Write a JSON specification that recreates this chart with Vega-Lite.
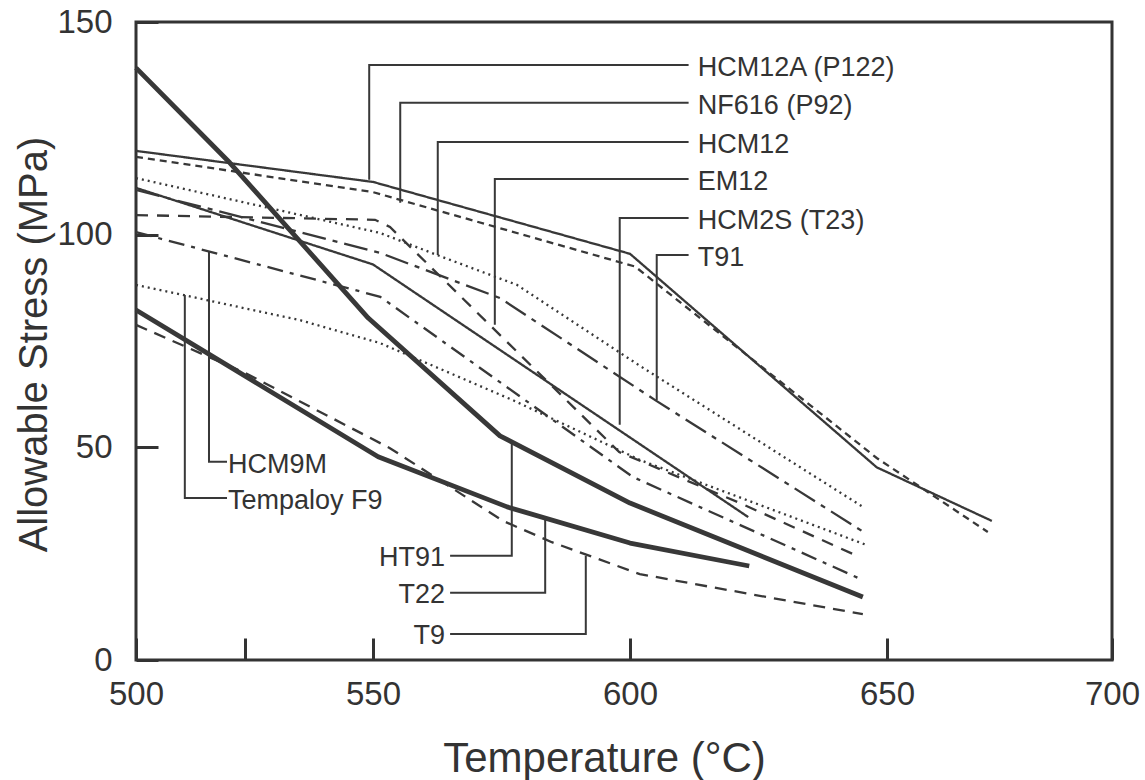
{
  "$schema": "https://vega.github.io/schema/vega-lite/v6.json",
  "width": 976,
  "height": 638,
  "autosize": "none",
  "padding": {"left": 136, "top": 22, "right": 33, "bottom": 120},
  "background": "white",
  "config": {
    "view": {"stroke": "#333333", "strokeWidth": 3},
    "font": "Liberation Sans",
    "axis": {"grid": false, "domain": false, "labelColor": "#333333", "titleColor": "#333333", "titleFontWeight": "normal", "tickColor": "#333333", "tickWidth": 3, "labelFlush": false, "labelOverlap": false}
  },
  "datasets": {
    "curves": [
      {"material": "HCM12A (P122)", "T": 500, "S": 119.7},
      {"material": "HCM12A (P122)", "T": 550, "S": 112.4},
      {"material": "HCM12A (P122)", "T": 600, "S": 95.5},
      {"material": "HCM12A (P122)", "T": 648, "S": 45.3},
      {"material": "HCM12A (P122)", "T": 673.3, "S": 32.7},
      {"material": "NF616 (P92)", "T": 500, "S": 118.3},
      {"material": "NF616 (P92)", "T": 550, "S": 110},
      {"material": "NF616 (P92)", "T": 601, "S": 92.5},
      {"material": "NF616 (P92)", "T": 648, "S": 47.5},
      {"material": "NF616 (P92)", "T": 672.4, "S": 30.1},
      {"material": "HCM12", "T": 500, "S": 113.3},
      {"material": "HCM12", "T": 551.4, "S": 100.4},
      {"material": "HCM12", "T": 562.5, "S": 95.2},
      {"material": "HCM12", "T": 578, "S": 88.2},
      {"material": "HCM12", "T": 602, "S": 69.1},
      {"material": "HCM12", "T": 645.3, "S": 36.0},
      {"material": "EM12", "T": 500, "S": 104.6},
      {"material": "EM12", "T": 550.4, "S": 103.5},
      {"material": "EM12", "T": 553.3, "S": 101.8},
      {"material": "EM12", "T": 597.9, "S": 48.9},
      {"material": "EM12", "T": 621.4, "S": 36.9},
      {"material": "EM12", "T": 644.7, "S": 24.2},
      {"material": "HCM2S (T23)", "T": 500, "S": 111.0},
      {"material": "HCM2S (T23)", "T": 550, "S": 93.0},
      {"material": "HCM2S (T23)", "T": 623, "S": 33.6},
      {"material": "T91", "T": 500, "S": 110.5},
      {"material": "T91", "T": 551.4, "S": 95.7},
      {"material": "T91", "T": 574.7, "S": 85.1},
      {"material": "T91", "T": 604.9, "S": 61.1},
      {"material": "T91", "T": 645.7, "S": 29.9},
      {"material": "HCM9M", "T": 500, "S": 100.6},
      {"material": "HCM9M", "T": 551.4, "S": 85.4},
      {"material": "HCM9M", "T": 600.6, "S": 43.0},
      {"material": "HCM9M", "T": 645.3, "S": 18.8},
      {"material": "Tempaloy F9", "T": 500, "S": 88.2},
      {"material": "Tempaloy F9", "T": 534.6, "S": 79.9},
      {"material": "Tempaloy F9", "T": 551.4, "S": 74.5},
      {"material": "Tempaloy F9", "T": 577.2, "S": 61.1},
      {"material": "Tempaloy F9", "T": 602, "S": 47.0},
      {"material": "Tempaloy F9", "T": 646.1, "S": 27.0},
      {"material": "HT91", "T": 500, "S": 139.2},
      {"material": "HT91", "T": 519.8, "S": 116.9},
      {"material": "HT91", "T": 549, "S": 80.4},
      {"material": "HT91", "T": 574.7, "S": 52.7},
      {"material": "HT91", "T": 600, "S": 36.9},
      {"material": "HT91", "T": 645.3, "S": 14.8},
      {"material": "T22", "T": 500, "S": 82.3},
      {"material": "T22", "T": 551, "S": 47.8},
      {"material": "T22", "T": 576.1, "S": 36.0},
      {"material": "T22", "T": 600, "S": 27.5},
      {"material": "T22", "T": 623.2, "S": 22.1},
      {"material": "T9", "T": 500, "S": 78.8},
      {"material": "T9", "T": 523, "S": 67.5},
      {"material": "T9", "T": 553.3, "S": 49.8},
      {"material": "T9", "T": 575.3, "S": 32.7},
      {"material": "T9", "T": 584.8, "S": 27.7},
      {"material": "T9", "T": 601.9, "S": 20.2},
      {"material": "T9", "T": 626.6, "S": 14.8},
      {"material": "T9", "T": 645.3, "S": 10.8}
    ],
    "leaders": [
      {"id": "HCM12A (P122)", "i": 1, "T": 611.4, "S": 139.9},
      {"id": "HCM12A (P122)", "i": 2, "T": 549.2, "S": 139.9},
      {"id": "HCM12A (P122)", "i": 3, "T": 549.2, "S": 112.9},
      {"id": "NF616 (P92)", "i": 1, "T": 611.4, "S": 131.0},
      {"id": "NF616 (P92)", "i": 2, "T": 555.3, "S": 131.0},
      {"id": "NF616 (P92)", "i": 3, "T": 555.3, "S": 107.5},
      {"id": "HCM12", "i": 1, "T": 611.4, "S": 121.8},
      {"id": "HCM12", "i": 2, "T": 562.6, "S": 121.8},
      {"id": "HCM12", "i": 3, "T": 562.6, "S": 95.2},
      {"id": "EM12", "i": 1, "T": 611.4, "S": 113.1},
      {"id": "EM12", "i": 2, "T": 573.7, "S": 113.1},
      {"id": "EM12", "i": 3, "T": 573.7, "S": 78.8},
      {"id": "HCM2S (T23)", "i": 1, "T": 611.4, "S": 103.9},
      {"id": "HCM2S (T23)", "i": 2, "T": 598, "S": 103.9},
      {"id": "HCM2S (T23)", "i": 3, "T": 598, "S": 55.3},
      {"id": "T91", "i": 1, "T": 611.4, "S": 95.2},
      {"id": "T91", "i": 2, "T": 605.2, "S": 95.2},
      {"id": "T91", "i": 3, "T": 605.2, "S": 61.1},
      {"id": "HCM9M", "i": 1, "T": 515.4, "S": 95.9},
      {"id": "HCM9M", "i": 2, "T": 515.4, "S": 46.6},
      {"id": "HCM9M", "i": 3, "T": 519.2, "S": 46.6},
      {"id": "Tempaloy F9", "i": 1, "T": 510.3, "S": 85.8},
      {"id": "Tempaloy F9", "i": 2, "T": 510.3, "S": 38.1},
      {"id": "Tempaloy F9", "i": 3, "T": 519.2, "S": 38.1},
      {"id": "HT91", "i": 1, "T": 565.0, "S": 24.5},
      {"id": "HT91", "i": 2, "T": 577.0, "S": 24.5},
      {"id": "HT91", "i": 3, "T": 577.0, "S": 51.7},
      {"id": "T22", "i": 1, "T": 565.0, "S": 15.8},
      {"id": "T22", "i": 2, "T": 583.5, "S": 15.8},
      {"id": "T22", "i": 3, "T": 583.5, "S": 32.9},
      {"id": "T9", "i": 1, "T": 565.0, "S": 6.1},
      {"id": "T9", "i": 2, "T": 591.4, "S": 6.1},
      {"id": "T9", "i": 3, "T": 591.4, "S": 24.5}
    ],
    "labels": [
      {"text": "HCM12A (P122)", "side": "left", "T": 613.2, "S": 139.9},
      {"text": "NF616 (P92)", "side": "left", "T": 613.2, "S": 131.0},
      {"text": "HCM12", "side": "left", "T": 613.2, "S": 121.8},
      {"text": "EM12", "side": "left", "T": 613.2, "S": 113.1},
      {"text": "HCM2S (T23)", "side": "left", "T": 613.2, "S": 103.9},
      {"text": "T91", "side": "left", "T": 613.2, "S": 95.2},
      {"text": "HCM9M", "side": "left", "T": 519.4, "S": 46.6},
      {"text": "Tempaloy F9", "side": "left", "T": 519.4, "S": 38.1},
      {"text": "HT91", "side": "right", "T": 564.0, "S": 24.5},
      {"text": "T22", "side": "right", "T": 564.0, "S": 15.8},
      {"text": "T9", "side": "right", "T": 564.0, "S": 6.1}
    ]
  },
  "encoding": {
    "x": {
      "field": "T", "type": "quantitative",
      "scale": {"domain": [500, 550, 600, 650, 700], "range": [0, 237, 494, 751, 976], "nice": false, "zero": false},
      "axis": {"title": "Temperature (°C)", "values": [500, 523, 550, 600, 650, 700], "labelExpr": "datum.value == 523 ? '' : datum.label", "tickSize": -22, "labelFontSize": 33, "labelBaseline": "alphabetic", "labelPadding": 66, "titleFontSize": 42, "titleBaseline": "alphabetic", "titleX": 468, "titleY": 111}
    },
    "y": {
      "field": "S", "type": "quantitative",
      "scale": {"domain": [0, 150], "nice": false},
      "axis": {"title": "Allowable Stress (MPa)", "values": [0, 50, 100, 150], "tickSize": -22, "labelFontSize": 33, "labelPadding": 46, "titleFontSize": 40, "titleBaseline": "alphabetic", "titleX": -90, "titleY": 322}
    }
  },
  "layer": [
    {
      "data": {"name": "curves"},
      "transform": [{"filter": "datum.material != 'HT91' && datum.material != 'T22'"}],
      "mark": {"type": "line", "color": "#383838", "strokeCap": "butt", "strokeWidth": 2.3},
      "encoding": {
        "detail": {"field": "material"},
        "strokeDash": {
          "field": "material", "type": "nominal", "legend": null,
          "scale": {
            "domain": ["HCM12A (P122)", "NF616 (P92)", "HCM12", "EM12", "HCM2S (T23)", "T91", "HCM9M", "Tempaloy F9", "T9"],
            "range": [[1, 0], [7, 5], [2, 4], [12, 9], [1, 0], [24, 7, 5, 7], [16, 7, 4, 7], [2, 4], [12, 8]]
          }
        }
      }
    },
    {
      "data": {"name": "curves"},
      "transform": [{"filter": "datum.material == 'HT91' || datum.material == 'T22'"}],
      "mark": {"type": "line", "color": "#383838", "strokeWidth": 4.8, "strokeJoin": "round"},
      "encoding": {"detail": {"field": "material"}}
    },
    {
      "data": {"name": "leaders"},
      "mark": {"type": "line", "color": "#383838", "strokeWidth": 2},
      "encoding": {"detail": {"field": "id"}, "order": {"field": "i", "type": "quantitative"}}
    },
    {
      "data": {"name": "labels"},
      "transform": [{"filter": "datum.side == 'left'"}],
      "mark": {"type": "text", "align": "left", "baseline": "middle", "fontSize": 27, "color": "#333333", "dy": 3},
      "encoding": {"text": {"field": "text"}}
    },
    {
      "data": {"name": "labels"},
      "transform": [{"filter": "datum.side == 'right'"}],
      "mark": {"type": "text", "align": "right", "baseline": "middle", "fontSize": 27, "color": "#333333", "dy": 2},
      "encoding": {"text": {"field": "text"}}
    }
  ]
}
